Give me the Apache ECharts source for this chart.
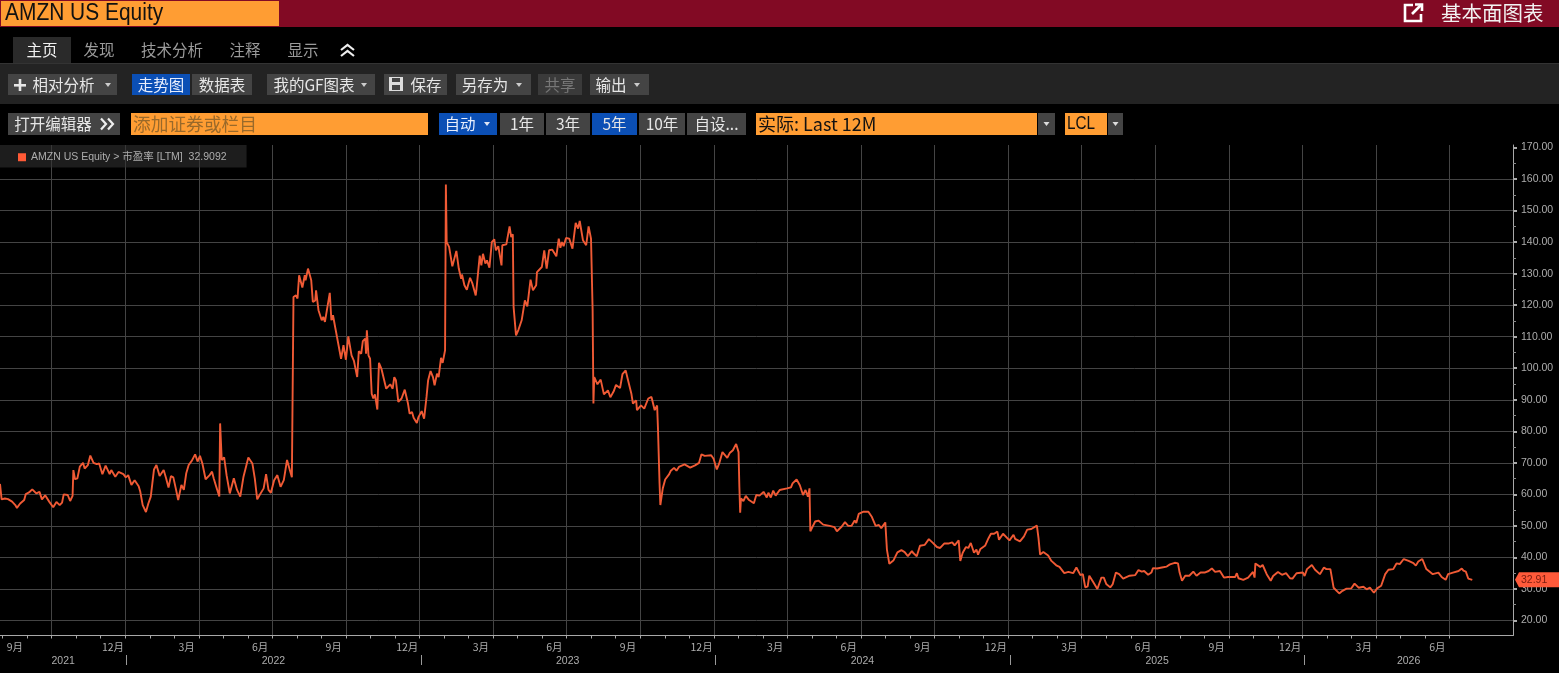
<!DOCTYPE html>
<html>
<head>
<meta charset="utf-8">
<title>AMZN US Equity</title>
<script src="https://cdn.jsdelivr.net/npm/echarts@6/dist/echarts.min.js"></script>
<style>html,body{margin:0;padding:0;background:#000;overflow:hidden}#c{width:1559px;height:673px}</style>
</head>
<body>
<div id="c"></div>
<script>
// [days after the left edge of the chart, P/E]
const pe2021 = [[0,63.3],[2,58.4],[6,58.7],[10,58.5],[15,57.7],[19,56.6],[21,55.7],[25,57.1],[30,58.2],[32,60.1],[36,60.6],[40,61.6],[45,60.3],[49,60.8],[52,58.4],[56,59.7],[58,59.8],[61,57.7],[66,55.9],[70,57.6],[74,56.6],[77,57.4],[79,60],[84,59.8],[87,57.9],[90,59.5],[91,67.7],[93,64.8],[96,65.1],[99,68.8],[103,70],[105,68.2],[109,69.3],[112,72.3],[116,70],[120,69.6],[123,69.8],[127,66.4],[131,69.1],[136,66.4],[138,67.7],[143,65.6],[147,67.1],[153,66.4],[156,65.4]];
const pe2022 = [[159,66.1],[163,63],[167,64.5],[172,62.6],[174,60.8],[177,56.6],[181,54.4],[184,57.1],[187,59.3],[189,59.5],[191,67.9],[194,69.3],[198,65.8],[203,67.7],[206,65.1],[209,62.2],[212,65.8],[215,65.4],[218,61.9],[221,58.2],[225,63],[228,61.4],[231,66.7],[234,69.3],[238,70.7],[242,72.7],[245,70.4],[248,72.2],[251,69.8],[255,64.8],[260,66.1],[263,67.2],[265,65.1],[268,62.6],[272,59.3],[273,82.5],[275,70.9],[278,71.7],[279,71.4],[281,66.1],[285,60.3],[290,65.1],[292,65.6],[294,61.4],[298,59.3],[302,65.6],[308,71.7],[313,69.8],[316,65.1],[319,58.4],[322,59.8],[327,61.9],[330,66.4],[333,61.4],[336,60.5],[340,64.5],[344,66.1],[348,62.4],[352,64.5],[356,70.9],[358,71.1],[362,65.4],[364,122.6],[367,123.1],[369,122.1],[371,129.5],[375,125.6],[378,129.5],[379,127.9],[382,131.6],[386,127.9],[388,121],[391,121.5],[392,124.7],[395,118.4],[399,115.2],[401,116.3],[403,114.7],[409,123.9],[411,115.2],[413,116.8],[416,112.6],[418,112],[423,103],[426,107.3],[429,102.7],[432,110.1],[434,110],[436,104.1],[439,102.3],[441,102.5],[443,97.2],[445,105.4],[448,104.6],[450,108.6],[453,109.4],[454,104.6],[455,112],[457,104.1],[459,103],[461,91.9],[463,90.4],[465,91.7],[468,86.9],[470,101.7],[473,99.9],[479,93.5],[484,94.9],[487,93.5],[489,97.2],[491,96.2],[494,89.3],[498,90.4],[502,93.2],[506,88.8],[508,85.6],[511,86.1],[513,84.3],[517,82.6],[519,84.5],[521,85]];
const pe2023 = [[523,86.4],[526,84],[529,90.9],[531,96.2],[534,99.1],[537,97.2],[539,94.6],[542,98.3],[544,97.2],[547,103.3],[549,101.7],[552,105.7],[553,158.3],[554,140],[557,138.5],[561,132.3],[566,137.2],[569,131.6],[572,128.4],[573,129.7],[576,126.3],[579,124.9],[583,128.7],[586,126.8],[590,123.1],[591,125.2],[595,135.7],[597,132.6],[599,136.3],[602,133.2],[604,134.2],[607,131.9],[610,140],[613,140.9],[615,137.4],[618,138.7],[622,132.6],[623,139],[628,139.3],[632,145],[634,141.6],[636,142.5],[637,119.4],[640,110.4],[643,112.2],[647,115.2],[651,121.5],[654,119.6],[658,128.1],[661,124.7],[665,126.3],[666,130.5],[672,132.1],[675,137.4],[678,131.6],[681,137.4],[685,137.6],[690,135.5],[693,141.1],[695,138.2],[697,140],[699,138.7],[702,141.3],[706,141.1],[710,137.9],[714,146.1],[717,144.3],[719,146.7],[723,140.6],[727,139],[729,139],[730,145],[733,141.1],[735,118.4],[736,88.8],[737,97.2],[741,94.9],[745,96.4],[749,91.7],[754,93],[757,90.8],[761,92.6],[764,94.7],[769,93.7],[772,98.1],[776,99.3],[780,95.1],[783,92],[785,88.8],[789,89.8],[790,86.7],[795,88.2],[799,87.2],[804,90.4],[808,90.9],[812,86.7],[815,88.2],[816,81.3],[818,63.5],[819,56.6],[822,61.9],[825,64.7],[830,66.4],[832,67.5],[836,68.4],[839,67.5],[842,68.7],[849,69.5],[856,68.5],[858,68.2],[862,69.2],[867,70],[870,72.7],[874,72.2],[882,72.4],[885,71.3]];
const pe2024 = [[889,67.9],[892,69.8],[896,73.4],[902,71.6],[905,73.1],[909,74],[913,76],[916,73.4],[917,62.4],[918,54.2],[919,58.7],[922,57.9],[925,59.5],[929,58.2],[935,57.2],[938,59.8],[942,59.6],[947,60.8],[951,59],[953,60.5],[956,59],[959,61.2],[962,59.6],[967,61.4],[976,61.9],[981,62.2],[983,63.5],[988,64.7],[992,62.9],[996,59.8],[999,61.4],[1002,59.3],[1004,61.9],[1005,48.3],[1007,47.9],[1011,51.4],[1015,51.7],[1021,50.4],[1029,50],[1035,49.6],[1038,48.3],[1044,49.8],[1048,51.2],[1052,50],[1056,50],[1060,51.7],[1062,50.9],[1065,53.8],[1071,54.5],[1077,54.5],[1081,53],[1086,50],[1090,50.3],[1093,49.3],[1098,51.1],[1100,42.5],[1103,38],[1108,39],[1113,41.6],[1118,42.3],[1122,41.7],[1126,40.4],[1131,42],[1133,41.3],[1137,40.4],[1141,43.7],[1147,44],[1152,45.8],[1157,44.6],[1162,43.3],[1166,43],[1171,44.4],[1176,44.4],[1181,44.8],[1184,43.8],[1189,45.4],[1191,38.9],[1194,41.5],[1198,43.3],[1201,43],[1204,44.6],[1208,41.5],[1211,42.5],[1213,40.9],[1216,42.7],[1222,43.8],[1226,46.1],[1229,47.5],[1233,47.5],[1237,48.2],[1239,45.6],[1244,47.5],[1252,45.4]];
const pe2025 = [[1257,47.2],[1259,45.9],[1265,45.1],[1270,46.7],[1274,48.8],[1279,49],[1286,50.1],[1288,46.1],[1290,40.9],[1294,41.7],[1300,40.6],[1304,38.9],[1310,37.5],[1314,37],[1320,35],[1325,35.4],[1331,35],[1335,36.8],[1340,34.4],[1343,34.7],[1346,30.5],[1349,30.8],[1351,34.2],[1356,32.1],[1361,30],[1366,33.6],[1369,33.6],[1372,31.6],[1377,30.5],[1380,31.5],[1384,35.2],[1388,34.7],[1393,33.3],[1401,34.2],[1408,34.4],[1412,36],[1416,35.5],[1419,35.7],[1424,34.5],[1428,35.2],[1430,36.6],[1435,36.5],[1441,36.8],[1447,37.1],[1451,37.8],[1457,38.3],[1461,38.1],[1463,35.2],[1466,32.6],[1470,34.2],[1475,34.2],[1480,35.5],[1484,34.2],[1489,35.2],[1494,35.2],[1499,35.7],[1503,36.5],[1507,35.4],[1513,35.7],[1518,33.6],[1523,33.8],[1532,33.8],[1534,35],[1536,33.4],[1542,32.9],[1548,33.6],[1554,35.4],[1556,33.6],[1557,38.1],[1563,37],[1566,37.6],[1571,34.7],[1576,32.6],[1579,34.1],[1585,35.4],[1590,34.5],[1595,35],[1600,33.4],[1603,33.3],[1608,35],[1616,35.2]];
const pe2026 = [[1618,34.1],[1621,36.3],[1627,37.6],[1631,36.1],[1637,34.7],[1642,36.8],[1645,36.3],[1650,36.3],[1654,30.4],[1656,29.9],[1661,28.6],[1665,29.4],[1670,30.1],[1676,30.2],[1680,31.7],[1685,30.4],[1691,30.7],[1695,29.9],[1699,30.4],[1704,28.8],[1708,30.2],[1713,31],[1718,34.7],[1722,36.1],[1728,36.3],[1732,38.1],[1736,37.9],[1741,39.5],[1747,38.9],[1753,38.2],[1756,37.4],[1759,38.7],[1764,39.5],[1769,36.3],[1777,34.7],[1784,35.2],[1788,33.8],[1793,32.9],[1796,34.7],[1802,35.2],[1809,35.7],[1813,36.5],[1815,35.8],[1818,35.5],[1821,33.3],[1826,32.91]];
const lastValue = 32.91;

const monthLabels = ['9月','','','','12月','','','3月','','','6月','','','9月','','','12月','','','3月','','','6月','','','9月','','','12月','','','3月','','','6月','','','9月','','','12月','','','3月','','','6月','','','9月','','','12月','','','3月','','','6月'];
const yearLabels = ['2021','2022','2023','2024','2025','2026'];
const yearStarts = [[2022,0,1],[2023,0,1],[2024,0,1],[2025,0,1],[2026,0,1]];
const yTicks = {min:20, max:170, step:10};
const seriesName = 'AMZN US Equity > 市盈率 [LTM]  32.9092';

const DAY = 86400000;
const axisStart = Date.UTC(2021,6,28,10);
const axisEnd = axisStart + 1876.5*DAY;
const allSamples = [].concat(pe2021,pe2022,pe2023,pe2024,pe2025,pe2026);
const lineData = allSamples.map(p => [axisStart + p[0]*DAY, p[1]]);

const edges = [axisStart].concat(yearStarts.map(d => Date.UTC(d[0],d[1],d[2])), [axisEnd]);
const yearData = yearLabels.map((y,i) => [edges[i], edges[i+1]]);

const CJK = '"Noto Sans CJK SC","Liberation Sans",sans-serif';
const LAT = '"Liberation Sans","Noto Sans CJK SC",sans-serif';
const ORANGE = '#ff9d33', BLUE = '#0b4fb5', BTN = '#444444', LINE = '#f05a35', TAG = '#ff5a3a';

// ---- terminal chrome ----
const g = [];
function R(x,y,w,h,fill,stroke){ g.push({type:'rect',silent:true,shape:{x,y,width:w,height:h},style:{fill,stroke:stroke||null,lineWidth:stroke?1:0}}); }
function T(x,y,text,size,fill,align,font,sx){ g.push({type:'text',silent:true,x,y,scaleX:sx||1,style:{x:0,y:0,text,fill,font:size+'px '+(font||CJK),align:align||'left',verticalAlign:'middle'}}); }
function P(points,stroke,lw){ g.push({type:'polyline',silent:true,shape:{points},style:{stroke,lineWidth:lw,fill:null}}); }
function A(cx,cy,fill){ g.push({type:'polygon',silent:true,shape:{points:[[cx-3,cy-2],[cx+3,cy-2],[cx,cy+2]]},style:{fill:fill||'#ccc'}}); }

R(0,0,1559,27,'#820a24');
R(1,1,278,25,ORANGE);
T(5,13.5,'AMZN US Equity',23,'#111','left',LAT,0.91);
P([[1413,5],[1405,5],[1405,21],[1421,21],[1421,14]],'#fff',2.6);
P([[1412,14],[1421,5]],'#fff',2.6);
P([[1415,4.5],[1422,4.5],[1422,11]],'#fff',2.6);
T(1441,13,'基本面图表',20.5,'#f2f2f2');

R(13,37,58,26,'#2a2a2a');
T(42,50,'主页',15.5,'#f0f0f0','center');
[[99,'发现'],[172,'技术分析'],[245,'注释'],[303,'显示']].forEach(t=>T(t[0],50,t[1],15.5,'#9a9a9a','center'));
P([[341,50],[347.5,45],[354,50]],'#eee',2.2);
P([[341,56],[347.5,51],[354,56]],'#eee',2.2);

R(0,63,1559,41,'#232323');
R(0,63,1559,1,'#333333');

[
 [8,117,'相对分析',BTN,'#e6e6e6',63.5,108],
 [132,190,'走势图',BLUE,'#e8eefc',161],
 [192,252,'数据表',BTN,'#e6e6e6',222],
 [267,375,'我的GF图表',BTN,'#e6e6e6',314,364],
 [384,447,'保存',BTN,'#e6e6e6',426],
 [456,531,'另存为',BTN,'#e6e6e6',485,519],
 [538,582,'共享','#3a3a3a','#777777',560],
 [590,649,'输出',BTN,'#e6e6e6',611,637]
].forEach(b=>{
  R(b[0],74,b[1]-b[0],21,b[3]);
  T(b[5],85.5,b[2],15.5,b[4],'center');
  if(b[6]) A(b[6],85,'#ccc');
});
R(14,84,12,2.6,'#e6e6e6'); R(18.7,79,2.6,12,'#e6e6e6');
R(389,77,14,14,'#dddddd'); R(392,78,8,4,BTN); R(392,85,8,5,BTN);

R(8,113,112,22,BTN);
T(53,124,'打开编辑器',15.5,'#e6e6e6','center');
P([[101,118.5],[106,124],[101,129.5]],'#eee',2.2);
P([[108,118.5],[113,124],[108,129.5]],'#eee',2.2);
R(131,113,297,22,ORANGE);
T(133,124,'添加证券或栏目',17.7,'#99692a');
R(439,113,58,22,BLUE);
T(460,124,'自动',15.5,'#e8eefc','center'); A(487,124,'#dfe6f5');
[[500,544,'1年',BTN],[546,590,'3年',BTN],[592,637,'5年',BLUE],[639,685,'10年',BTN],[687,746,'自设...',BTN]].forEach(b=>{
  R(b[0],113,b[1]-b[0],22,b[3]);
  T((b[0]+b[1])/2,124,b[2],15.5,'#e6e6e6','center');
});
R(756,113,281,22,ORANGE);
T(758,124,'实际: Last 12M',18,'#111');
R(1038,113,17,22,BTN); A(1046.5,124,'#ddd');
R(1065,113,42,22,ORANGE);
T(1067,124,'LCL',18,'#111','left',LAT,0.85);
R(1108,113,15,22,BTN); A(1115.5,124,'#ddd');

// ---- chart ----
const gridColor = '#444444', axisColor = '#a8a8a8', labelColor = '#adadad';

const option = {
  backgroundColor:'#000',
  animation:false,
  graphic:{elements:g},
  legend:{
    data:[{name:seriesName,icon:'rect'}],
    left:0, top:145, padding:[7,20,5,18], itemWidth:8, itemHeight:8,
    backgroundColor:'rgba(48,48,48,0.6)',
    selectedMode:false,
    textStyle:{color:labelColor,fontSize:10.5,fontFamily:LAT}
  },
  grid:[
    {left:0,width:1513,top:147.5,height:473},
    {left:2.6,width:1447,top:145,height:490.5},
    {left:0,width:1513,top:145,height:490.5}
  ],
  xAxis:[
    {gridIndex:0,type:'time',min:axisStart,max:axisEnd,show:false},
    {gridIndex:1,type:'category',data:monthLabels,boundaryGap:true,
     axisLine:{show:false},
     axisTick:{show:true,interval:0,length:3,lineStyle:{color:axisColor}},
     axisLabel:{show:true,interval:0,color:labelColor,fontSize:10.5,margin:6,fontFamily:CJK,hideOverlap:false},
     splitLine:{show:true,interval:(i)=>i%3===2,lineStyle:{color:gridColor,width:1}}},
    {gridIndex:2,type:'time',min:axisStart,max:axisEnd,
     axisLine:{show:true,onZero:false,lineStyle:{color:axisColor}},axisTick:{show:false},axisLabel:{show:false},splitLine:{show:false}}
  ],
  yAxis:[
    {gridIndex:0,type:'value',position:'right',min:yTicks.min,max:yTicks.max,interval:yTicks.step,
     axisLine:{show:false},
     axisTick:{show:true,length:4,lineStyle:{color:axisColor,width:2}},
     minorTick:{show:true,splitNumber:2,length:3,lineStyle:{color:'#8a8a8a',width:1}},
     axisLabel:{color:labelColor,fontSize:10.5,margin:8,fontFamily:LAT,verticalAlign:'middle',padding:[3,0,0,0],formatter:v=>v.toFixed(2)},
     splitLine:{show:true,showMaxLine:false,lineStyle:{color:gridColor,width:1}}},
    {gridIndex:1,type:'value',show:false,min:0,max:1},
    {gridIndex:2,type:'value',position:'right',min:0,max:1,
     axisLine:{show:true,onZero:false,lineStyle:{color:axisColor}},axisTick:{show:false},axisLabel:{show:false},splitLine:{show:false}}
  ],
  series:[
    {name:seriesName,type:'line',xAxisIndex:0,yAxisIndex:0,data:lineData,showSymbol:false,symbol:'none',
     lineStyle:{color:LINE,width:1.9},itemStyle:{color:'#ff5a36'},z:3,silent:true},
    {name:'yearBand',type:'custom',xAxisIndex:2,yAxisIndex:2,data:yearData,silent:true,
     encode:{x:[0,1]},
     renderItem:(params,api)=>{
       const x0=api.coord([api.value(0),0]), x1=api.coord([api.value(1),0]);
       const kids=[{type:'text',style:{x:(x0[0]+x1[0])/2,y:x0[1]+25.5,text:yearLabels[params.dataIndex],fill:labelColor,font:'10.5px '+LAT,align:'center',verticalAlign:'middle'}}];
       if(params.dataIndex<yearLabels.length-1) kids.push({type:'line',shape:{x1:Math.round(x1[0])+.5,y1:x0[1]+19.5,x2:Math.round(x1[0])+.5,y2:x0[1]+29.5},style:{stroke:'#9a9a9a',lineWidth:1}});
       return {type:'group',children:kids};
     }},
    {name:'lastTag',type:'custom',xAxisIndex:0,yAxisIndex:0,data:[[axisEnd,lastValue]],silent:true,z:5,
     renderItem:(params,api)=>{
       const p=api.coord([api.value(0),api.value(1)]);
       const y=p[1];
       return {type:'group',children:[
         {type:'polygon',shape:{points:[[p[0]+2,y],[p[0]+6,y-7.5],[1559,y-7.5],[1559,y+7.5],[p[0]+6,y+7.5]]},style:{fill:TAG}},
         {type:'text',style:{x:p[0]+8,y:y,text:lastValue.toFixed(2),fill:'#7a1d10',font:'10.5px '+LAT,align:'left',verticalAlign:'middle'}}
       ]};
     }}
  ]
};
echarts.init(document.getElementById('c')).setOption(option);
</script>
</body>
</html>
